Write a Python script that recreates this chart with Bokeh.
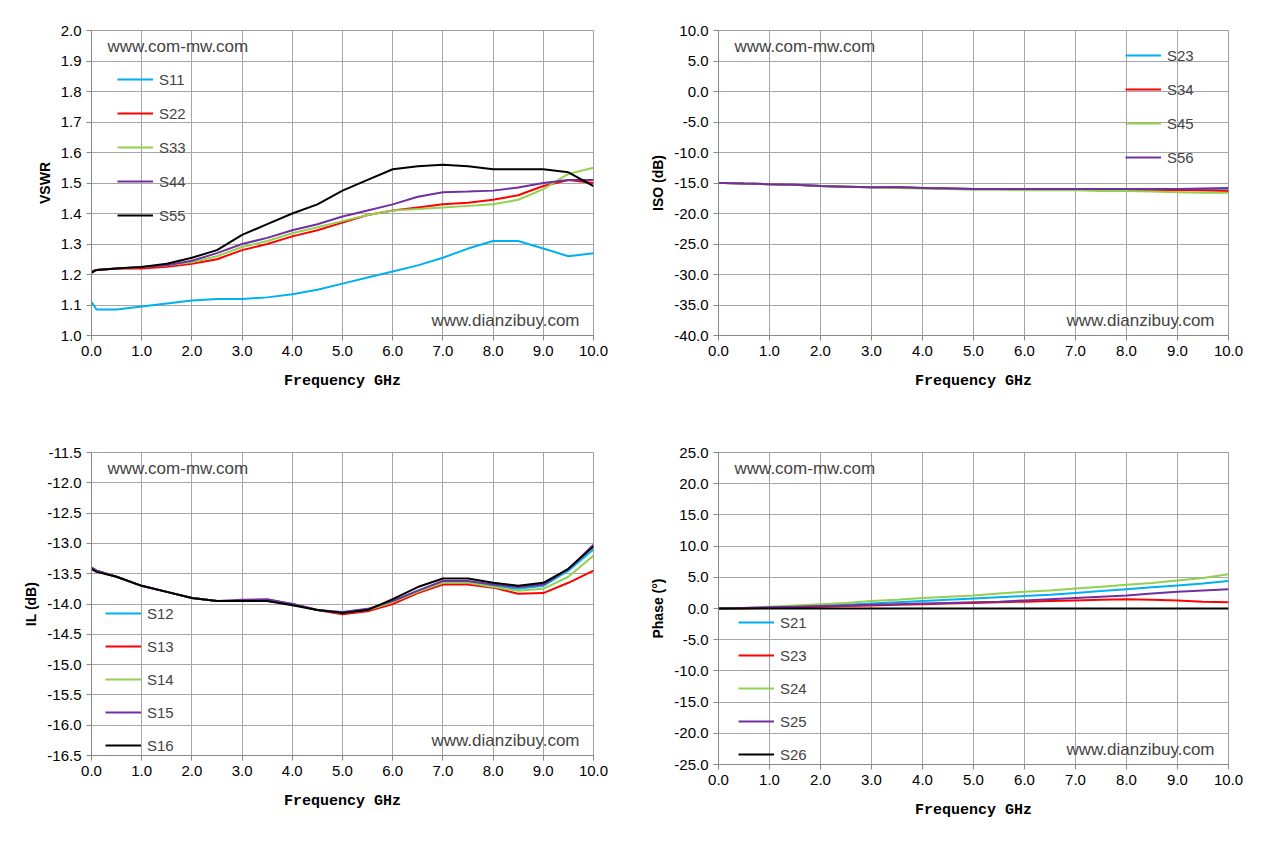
import numpy as np
from bokeh.plotting import figure
from bokeh.layouts import column, row
from bokeh.models import FixedTicker, Legend, LegendItem, Label, NumeralTickFormatter
from bokeh.embed import file_html
from bokeh.resources import INLINE

x = [0, 0.1, 0.5, 1, 1.5, 2, 2.5, 3, 3.5, 4, 4.5, 5, 5.5, 6, 6.5, 7, 7.5, 8, 8.5, 9, 9.5, 10]

s11 = [1.11, 1.085, 1.085, 1.095, 1.105, 1.115, 1.12, 1.12, 1.125, 1.135, 1.15, 1.17, 1.19, 1.21, 1.23, 1.255, 1.285, 1.31, 1.31, 1.285, 1.26, 1.27]
s22 = [1.21, 1.215, 1.22, 1.22, 1.225, 1.235, 1.25, 1.28, 1.30, 1.325, 1.345, 1.37, 1.395, 1.41, 1.42, 1.43, 1.435, 1.445, 1.46, 1.49, 1.51, 1.50]
s33 = [1.21, 1.215, 1.22, 1.225, 1.23, 1.24, 1.26, 1.29, 1.31, 1.335, 1.355, 1.375, 1.395, 1.41, 1.415, 1.42, 1.425, 1.43, 1.445, 1.48, 1.53, 1.55]
s44 = [1.21, 1.215, 1.22, 1.225, 1.23, 1.245, 1.27, 1.30, 1.32, 1.345, 1.365, 1.39, 1.41, 1.43, 1.455, 1.47, 1.472, 1.475, 1.485, 1.50, 1.51, 1.51]
s55 = [1.205, 1.215, 1.22, 1.225, 1.235, 1.255, 1.28, 1.33, 1.365, 1.40, 1.43, 1.475, 1.51, 1.545, 1.555, 1.56, 1.555, 1.545, 1.545, 1.545, 1.535, 1.49]

iso23 = [-15.0, -15.0, -15.1, -15.2, -15.3, -15.5, -15.6, -15.7, -15.7, -15.8, -15.9, -16.0, -16.0, -16.1, -16.1, -16.1, -16.1, -16.1, -16.1, -16.1, -16.2, -16.2]
iso34 = [-15.0, -15.0, -15.1, -15.2, -15.3, -15.5, -15.6, -15.7, -15.7, -15.8, -15.9, -16.0, -16.0, -16.1, -16.1, -16.1, -16.1, -16.2, -16.2, -16.2, -16.2, -16.3]
iso45 = [-15.0, -15.0, -15.1, -15.2, -15.3, -15.5, -15.6, -15.7, -15.8, -15.9, -16.0, -16.1, -16.1, -16.2, -16.2, -16.2, -16.3, -16.3, -16.4, -16.5, -16.6, -16.6]
iso56 = [-15.0, -15.0, -15.1, -15.2, -15.3, -15.5, -15.6, -15.7, -15.7, -15.8, -15.9, -16.0, -16.0, -16.0, -16.0, -16.0, -16.0, -16.0, -16.0, -16.0, -15.9, -15.8]

il12 = [-13.4, -13.45, -13.55, -13.7, -13.8, -13.9, -13.95, -13.95, -13.93, -14.0, -14.1, -14.15, -14.1, -13.95, -13.8, -13.65, -13.65, -13.7, -13.75, -13.7, -13.45, -13.1]
il13 = [-13.4, -13.45, -13.55, -13.7, -13.8, -13.9, -13.95, -13.95, -13.95, -14.0, -14.1, -14.17, -14.12, -14.0, -13.82, -13.68, -13.68, -13.73, -13.83, -13.82, -13.65, -13.45]
il14 = [-13.4, -13.45, -13.55, -13.7, -13.8, -13.9, -13.95, -13.95, -13.93, -14.0, -14.1, -14.15, -14.1, -13.97, -13.8, -13.65, -13.65, -13.72, -13.78, -13.75, -13.55, -13.2]
il15 = [-13.4, -13.45, -13.55, -13.7, -13.8, -13.9, -13.95, -13.93, -13.92, -14.0, -14.1, -14.13, -14.08, -13.95, -13.78, -13.62, -13.62, -13.68, -13.72, -13.68, -13.42, -13.02]
il16 = [-13.42, -13.47, -13.55, -13.7, -13.8, -13.9, -13.95, -13.95, -13.95, -14.02, -14.1, -14.15, -14.1, -13.92, -13.72, -13.58, -13.58, -13.65, -13.7, -13.65, -13.42, -13.05]

ph21 = [0.0, 0.0, 0.1, 0.2, 0.3, 0.4, 0.6, 0.8, 1.0, 1.2, 1.4, 1.6, 1.8, 2.0, 2.2, 2.5, 2.8, 3.1, 3.4, 3.7, 4.0, 4.4]
ph23 = [0.0, 0.0, 0.0, 0.1, 0.2, 0.3, 0.4, 0.5, 0.6, 0.7, 0.8, 0.9, 1.0, 1.1, 1.2, 1.3, 1.4, 1.5, 1.4, 1.3, 1.1, 1.0]
ph24 = [0.0, 0.0, 0.1, 0.3, 0.5, 0.7, 0.9, 1.2, 1.4, 1.7, 1.9, 2.1, 2.4, 2.7, 2.9, 3.2, 3.5, 3.8, 4.1, 4.5, 4.9, 5.5]
ph25 = [0.0, 0.0, 0.1, 0.2, 0.3, 0.4, 0.5, 0.6, 0.7, 0.8, 0.9, 1.0, 1.1, 1.3, 1.5, 1.7, 1.9, 2.1, 2.4, 2.7, 2.9, 3.1]
ph26 = [0.0, 0.0, 0.0, 0.0, 0.0, 0.0, 0.0, 0.0, 0.0, 0.0, 0.0, 0.0, 0.0, 0.0, 0.0, 0.0, 0.0, 0.0, 0.0, 0.0, 0.0, 0.0]

COLORS = ["#00b0f0", "#ff0000", "#92d050", "#7030a0", "#000000"]
xticks = [0, 1, 2, 3, 4, 5, 6, 7, 8, 9, 10]


def make(series, names, ylab, yr, ystep, borders, fw, fh, legpos, wm1, wm2, sp=14):
    l, r, t, b = borders
    p = figure(frame_width=fw, frame_height=fh, min_border_left=l, min_border_right=r,
               min_border_top=t, min_border_bottom=b, x_range=(0, 10), y_range=yr,
               output_backend="svg", toolbar_location=None, background_fill_color="white",
               border_fill_color="white")
    p.outline_line_color = "#a0a0a0"
    p.xaxis.ticker = FixedTicker(ticks=xticks)
    n = int(round((yr[1] - yr[0]) / ystep))
    p.yaxis.ticker = FixedTicker(ticks=[yr[0] + i * ystep for i in range(n + 1)])
    p.xaxis.formatter = NumeralTickFormatter(format="0.0")
    p.yaxis.formatter = NumeralTickFormatter(format="0.0")
    for ax in (p.xaxis, p.yaxis):
        ax.major_label_text_font = "Liberation Sans"
        ax.major_label_text_font_size = "15px"
        ax.major_label_text_color = "black"
        ax.axis_line_color = "#888888"
        ax.major_tick_line_color = "#888888"
        ax.minor_tick_line_color = None
        ax.major_tick_in = 0
        ax.major_tick_out = 5
        ax.axis_label_text_font_style = "bold"
        ax.axis_label_text_color = "black"
    p.xaxis.axis_label = "Frequency GHz"
    p.xaxis.axis_label_text_font = "Liberation Mono"
    p.xaxis.axis_label_text_font_size = "15px"
    p.xaxis.axis_label_standoff = 14
    p.yaxis.axis_label = ylab
    p.yaxis.axis_label_text_font = "Liberation Sans"
    p.yaxis.axis_label_text_font_size = "14px"
    p.grid.grid_line_color = "#a6a6a6"
    p.grid.grid_line_width = 1
    items = []
    for s, nm, c in zip(series, names, COLORS):
        g = p.line(x, s, line_color=c, line_width=2)
        items.append(LegendItem(label=nm, renderers=[g]))
    leg = Legend(items=items, location=legpos, border_line_color=None,
                 background_fill_alpha=0, label_text_font="Liberation Sans",
                 label_text_font_size="15px", glyph_width=36, spacing=sp,
                 label_standoff=6, margin=0)
    p.add_layout(leg, "center")
    p.add_layout(Label(x=16, y=fh - 25, x_units="screen", y_units="screen", text=wm1,
                       text_font="Liberation Sans", text_font_size="17px"))
    p.add_layout(Label(x=fw - 14, y=6, x_units="screen", y_units="screen", text=wm2,
                       text_align="right", text_font="Liberation Sans", text_font_size="17px"))
    return p


p1 = make([s11, s22, s33, s44, s55], ["S11", "S22", "S33", "S44", "S55"], "VSWR",
          (1.0, 2.0), 0.1, (91, 35, 30, 85), 502, 305, (26, 110),
          "www.com-mw.com", "www.dianzibuy.com")
p2 = make([iso23, iso34, iso45, iso56], ["S23", "S34", "S45", "S56"], "ISO (dB)",
          (-40.0, 10.0), 5.0, (90, 20, 25, 82), 510, 305, (407, 168),
          "www.com-mw.com", "www.dianzibuy.com")
p3 = make([il12, il13, il14, il15, il16], ["S12", "S13", "S14", "S15", "S16"], "IL (dB)",
          (-16.5, -11.5), 0.5, (91, 35, 32, 77), 502, 303, (14, 0),
          "www.com-mw.com", "www.dianzibuy.com", sp=13)
p4 = make([ph21, ph23, ph24, ph25, ph26], ["S21", "S23", "S24", "S25", "S26"], "Phase (°)",
          (-25.0, 25.0), 5.0, (90, 20, 32, 68), 510, 312, (20, 0),
          "www.com-mw.com", "www.dianzibuy.com", sp=13)

layout = column(row(p1, p2), row(p3, p4))
open("out.html", "w").write(file_html(layout, INLINE))
